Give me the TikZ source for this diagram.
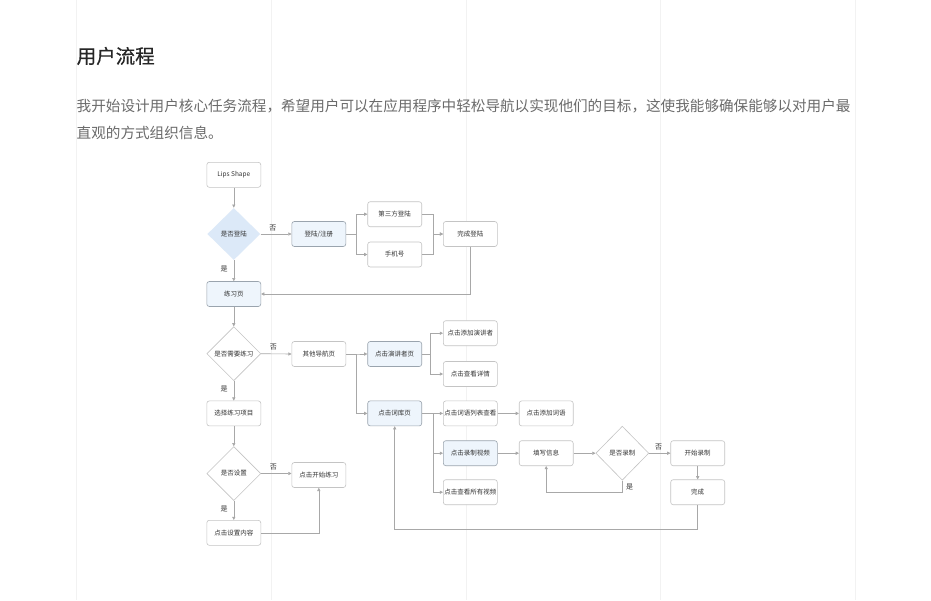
\documentclass[tikz,border=0pt]{standalone}
\usepackage{fontspec}
\usetikzlibrary{shapes.geometric,arrows.meta}
\newfontfamily\cjk{Noto Sans CJK SC}
\newfontfamily\cjkm[FakeBold=0.5]{Noto Sans CJK SC}
\definecolor{gridc}{HTML}{F2F2F2}
\definecolor{titlec}{HTML}{262626}
\definecolor{parac}{HTML}{6B6B6B}
\definecolor{boxc}{HTML}{C4C4C4}
\definecolor{hlborder}{HTML}{9AA4AE}
\definecolor{hlfill}{HTML}{EEF5FC}
\definecolor{diafill}{HTML}{DCE9F8}
\definecolor{linec}{HTML}{A8A8A8}
\definecolor{textc}{HTML}{333333}
\tikzset{
  box/.style={draw=boxc, line width=0.6pt, rounded corners=2.5pt, fill=white,
    minimum width=54pt, minimum height=25pt, inner sep=0pt,
    font=\cjk\fontsize{6.5}{7}\selectfont, text=textc},
  hbox/.style={box, fill=hlfill, draw=hlborder},
  dia/.style={diamond, draw=boxc, line width=0.6pt, fill=white, minimum width=54pt,
    minimum height=54pt, inner sep=0pt, font=\cjk\fontsize{6.5}{7}\selectfont, text=textc},
  bdia/.style={dia, draw=none, fill=diafill},
  conn/.style={draw=linec, line width=0.6pt, -{Triangle[length=3.2pt,width=3.2pt]}},
  lab/.style={font=\cjk\fontsize{7}{8}\selectfont, text=textc, inner sep=0pt},
}
\begin{document}
\begin{tikzpicture}[x=1pt,y=-1pt]
\useasboundingbox (0,0) rectangle (931,600);
\fill[white] (0,0) rectangle (931,600);
\foreach \gx in {76,271,466,660,855} \draw[gridc, line width=0.8pt] (\gx,0) -- (\gx,600);

\node[anchor=west, inner sep=0pt, font=\cjkm\fontsize{19.5}{22}\selectfont, text=titlec] (title) at (76.5,56) {用户流程};
\node[anchor=west, inner sep=0pt, font=\cjk\fontsize{14.6}{18}\selectfont, text=parac] (p1) at (76.5,106) {我开始设计用户核心任务流程，希望用户可以在应用程序中轻松导航以实现他们的目标，这使我能够确保能够以对用户最};
\node[anchor=west, inner sep=0pt, font=\cjk\fontsize{14.6}{18}\selectfont, text=parac] (p2) at (76.5,133) {直观的方式组织信息。};

% column 1
\node[box] (lips) at (233.8,174.8) {Lips Shape};
\node[bdia, minimum width=53pt, minimum height=52pt] (login) at (233.8,234) {是否登陆};
\node[hbox] (practice) at (233.8,294) {练习页};
\node[dia] (needq) at (233.8,353.7) {是否需要练习};
\node[box] (choose) at (233.8,413.4) {选择练习项目};
\node[dia] (setq) at (233.8,473.5) {是否设置};
\node[box] (setc) at (233.8,532.8) {点击设置内容};

% column 2
\node[hbox] (reg) at (318.8,234) {登陆/注册};
\node[box] (other) at (318.8,354) {其他导航页};
\node[box] (start) at (318.8,475) {点击开始练习};

% column 3
\node[box] (third) at (394.7,214.2) {第三方登陆};
\node[box] (phone) at (394.7,254.5) {手机号};
\node[hbox] (spk) at (394.7,354) {点击演讲者页};
\node[hbox] (lib) at (394.7,413.4) {点击词库页};

% column 4
\node[box] (done) at (470.3,234) {完成登陆};
\node[box] (addspk) at (470.3,333.2) {点击添加演讲者};
\node[box] (detail) at (470.3,374) {点击查看详情};
\node[box] (wlist) at (470.3,413.4) {点击词语列表查看};
\node[hbox] (rec) at (470.3,453.2) {点击录制视频};
\node[box] (allv) at (470.3,492.2) {点击查看所有视频};

% column 5+
\node[box] (addw) at (546.2,413.4) {点击添加词语};
\node[box] (fill) at (546.2,453.2) {填写信息};
\node[dia, minimum width=53pt] (recq) at (622.3,453.2) {是否录制};
\node[box] (begin) at (697.7,453.2) {开始录制};
\node[box] (finish) at (697.7,492.2) {完成};

% vertical chain
\draw[conn] (lips) -- (login);
\draw[conn] (login) -- (practice) node[lab, pos=0.42, left=6pt] {是};
\draw[conn] (practice) -- (needq);
\draw[conn] (needq) -- (choose) node[lab, pos=0.42, left=6pt] {是};
\draw[conn] (choose) -- (setq);
\draw[conn] (setq) -- (setc) node[lab, pos=0.42, left=6pt] {是};

% login branch
\draw[conn] (login.east) -- (reg.west) node[lab, pos=0.4, above=3pt] {否};
\draw[conn] (reg.east) -- ++(9.7,0) |- (third.west);
\draw[conn] (reg.east) -- ++(9.7,0) |- (phone.west);
\draw[conn] (third.east) -- ++(11.3,0) |- (done.west);
\draw[conn] (phone.east) -- ++(11.3,0) |- (done.west);
\draw[conn] (done.south) |- (practice.east);

% navigation branch
\draw[conn] (needq.east) -- (other.west) node[lab, pos=0.4, above=3pt] {否};
\draw[conn] (other.east) -- ++(9.7,0) |- (spk.west);
\draw[conn] (other.east) -- ++(9.7,0) |- (lib.west);
\draw[conn] (spk.east) -- ++(8.3,0) |- (addspk.west);
\draw[conn] (spk.east) -- ++(8.3,0) |- (detail.west);
\draw[conn] (lib.east) -- (wlist.west);
\draw[conn] (lib.east) -- ++(11,0) |- (rec.west);
\draw[conn] (lib.east) -- ++(11,0) |- (allv.west);
\draw[conn] (wlist.east) -- (addw.west);
\draw[conn] (rec.east) -- (fill.west);
\draw[conn] (fill.east) -- (recq.west);
\draw[conn] (recq.east) -- (begin.west) node[lab, pos=0.45, above=3pt] {否};
\draw[conn] (recq.south) -- ++(0,12) -| (fill.south);
\node[lab] (yes4) at (629.5,486.8) {是};
\draw[conn] (begin) -- (finish);
\draw[conn] (finish.south) -- ++(0,24) -| (lib.south);

% settings branch
\draw[conn] (setq.east) -- (start.west |- setq.east) node[lab, pos=0.4, above=3pt] {否};
\draw[conn] (setc.east) -| (start.south);
\end{tikzpicture}
\end{document}
